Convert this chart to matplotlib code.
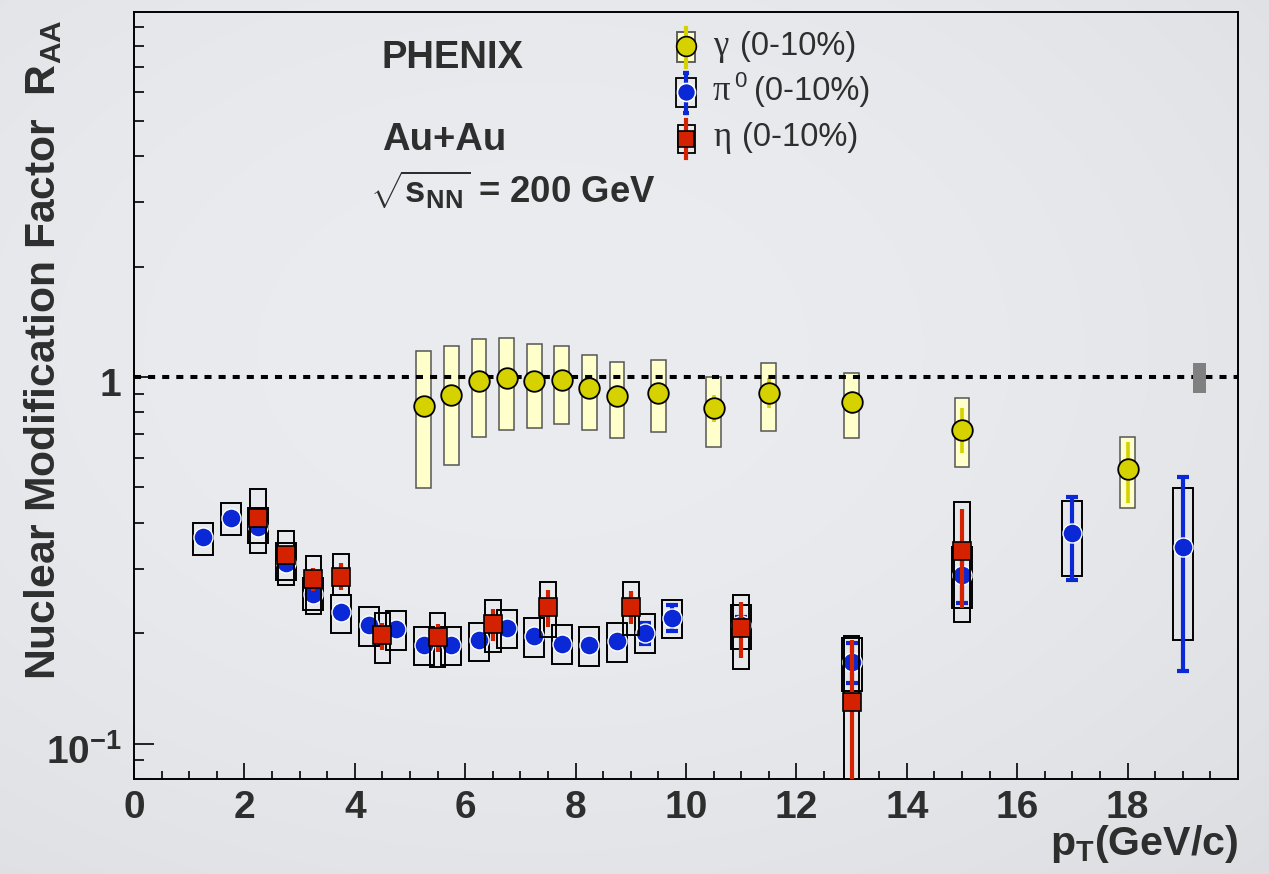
import numpy as np
import matplotlib
matplotlib.use("Agg")
import matplotlib.pyplot as plt
import matplotlib.transforms as mtransforms
from matplotlib.patches import Rectangle
from matplotlib.ticker import FixedLocator, MultipleLocator, FuncFormatter

# ---------------- data: R_AA in central (0-10%) Au+Au at sqrt(s_NN)=200 GeV ----------------
# direct photons
g_pt = [5.25, 5.75, 6.25, 6.75, 7.25, 7.75, 8.25, 8.75, 9.5, 10.5, 11.5, 13.0, 15.0, 18.0]
g_raa = [0.835, 0.893, 0.977, 0.996, 0.977, 0.979, 0.933, 0.889, 0.906, 0.823, 0.905, 0.855, 0.717, 0.560]
g_stat_lo = [0.80, 0.86, 0.945, 0.965, 0.945, 0.945, 0.895, 0.830, 0.860, 0.755, 0.822, 0.791, 0.619, 0.454]
g_stat_hi = [0.87, 0.93, 1.010, 1.030, 1.010, 1.015, 0.975, 0.951, 0.955, 0.893, 0.992, 0.916, 0.823, 0.666]
g_sys_lo = [0.497, 0.574, 0.687, 0.715, 0.726, 0.744, 0.717, 0.683, 0.707, 0.643, 0.711, 0.683, 0.567, 0.438]
g_sys_hi = [1.180, 1.215, 1.269, 1.280, 1.228, 1.212, 1.150, 1.096, 1.113, 1.002, 1.092, 1.023, 0.878, 0.685]

# neutral pions
p_pt = [1.25, 1.75, 2.25, 2.75, 3.25, 3.75, 4.25, 4.75, 5.25, 5.75, 6.25, 6.75, 7.25, 7.75,
        8.25, 8.75, 9.25, 9.75, 11.0, 13.0, 15.0, 17.0, 19.0]
p_raa = [0.365, 0.412, 0.391, 0.310, 0.256, 0.228, 0.211, 0.2055, 0.186, 0.186, 0.192, 0.2064,
         0.1966, 0.187, 0.186, 0.191, 0.2008, 0.2198, 0.2108, 0.1667, 0.2884, 0.3748, 0.3445]
p_stat_lo = [0.352, 0.398, 0.378, 0.300, 0.247, 0.220, 0.204, 0.199, 0.180, 0.180, 0.186, 0.200,
             0.190, 0.181, 0.180, 0.185, 0.187, 0.2027, 0.200, 0.146, 0.242, 0.2795, 0.158]
p_stat_hi = [0.378, 0.426, 0.404, 0.321, 0.265, 0.236, 0.218, 0.212, 0.192, 0.192, 0.198, 0.213,
             0.203, 0.193, 0.192, 0.197, 0.2135, 0.2388, 0.222, 0.188, 0.335, 0.4716, 0.535]
p_sys_lo = [0.3277, 0.370, 0.352, 0.2795, 0.232, 0.200, 0.185, 0.180, 0.1636, 0.1636, 0.168, 0.182,
            0.1727, 0.165, 0.1632, 0.1673, 0.1763, 0.1937, 0.181, 0.1392, 0.2349, 0.2866, 0.1918]
p_sys_hi = [0.399, 0.454, 0.4385, 0.352, 0.283, 0.2543, 0.2355, 0.230, 0.2085, 0.2085, 0.2138, 0.2315,
            0.2207, 0.210, 0.2076, 0.2133, 0.2253, 0.2465, 0.239, 0.1937, 0.3445, 0.460, 0.497]

# eta mesons
e_pt = [2.25, 2.75, 3.25, 3.75, 4.5, 5.5, 6.5, 7.5, 9.0, 11.0, 13.0, 15.0]
e_raa = [0.412, 0.327, 0.2807, 0.2854, 0.198, 0.195, 0.212, 0.2355, 0.2364, 0.2064, 0.1302, 0.336]
e_stat_lo = [0.395, 0.310, 0.260, 0.262, 0.180, 0.178, 0.190, 0.208, 0.212, 0.171, 0.060, 0.2349]
e_stat_hi = [0.430, 0.345, 0.302, 0.310, 0.213, 0.2117, 0.233, 0.262, 0.260, 0.244, 0.1918, 0.4364]
e_sys_lo = [0.3305, 0.270, 0.2253, 0.254, 0.1663, 0.162, 0.1775, 0.195, 0.1976, 0.1598, 0.060, 0.2151]
e_sys_hi = [0.494, 0.381, 0.325, 0.328, 0.2277, 0.2267, 0.2465, 0.2755, 0.2755, 0.254, 0.196, 0.457]

# global normalisation uncertainty drawn at unity
norm_pt = [19.3]
norm_lo = [0.905]
norm_hi = [1.092]

x_ticks = [0, 2, 4, 6, 8, 10, 12, 14, 16, 18]
y_major = [0.1, 1.0]
y_minor = [0.09, 0.2, 0.3, 0.4, 0.5, 0.6, 0.7, 0.8, 0.9, 2, 3, 4, 5, 6, 7, 8, 9]
y_labels = {0.1: r"$\mathbf{10^{-1}}$", 1.0: "1"}

# ---------------- style ----------------
YELLOW = "#D6D200"
YELLOW_BOX = "#FFFFCC"
BLUE = "#0A28D6"
RED = "#D42200"
TXT = "#2E2E2E"

plt.rcParams.update({
    "font.family": ["Liberation Sans", "DejaVu Sans"],
    "mathtext.fontset": "custom",
    "mathtext.rm": "Liberation Sans:bold",
    "mathtext.bf": "Liberation Sans:bold",
    "mathtext.it": "Liberation Sans:bold",
    "mathtext.sf": "Liberation Sans:bold",
})

W, H = 1269, 874
fig = plt.figure(figsize=(W / 100, H / 100), dpi=100)

# soft light-grey backdrop, slightly darker towards the edges
yy, xx = np.mgrid[0:H, 0:W]
r2 = ((xx - 0.42 * W) / W) ** 2 + ((yy - 0.40 * H) / H) ** 2
shade = np.clip(1.0 - 0.09 * r2, 0, 1)
base = np.array([235, 236, 240]) / 255.0
bg = (base[None, None, :] * shade[:, :, None])
fig.figimage(np.clip(bg, 0, 1), 0, 0, zorder=-10)

# pixel-space transform (origin top-left) for the annotation block
pix = mtransforms.Affine2D().scale(1.0 / W, -1.0 / H).translate(0, 1) + fig.transFigure

ax = fig.add_axes([134 / W, 1 - 779 / H, (1238 - 134) / W, (779 - 12) / H])
ax.patch.set_alpha(0)
ax.set_yscale("log")
ax.set_xlim(0, 20)
ax.set_ylim(0.0801, 9.89)

# ---- photons ----
g_pt_a = np.array(g_pt)
g_raa_a = np.array(g_raa)
ax.bar(g_pt_a, np.subtract(g_sys_hi, g_sys_lo), bottom=g_sys_lo, width=0.27,
       color=YELLOW_BOX, edgecolor="#555555", linewidth=1.1, zorder=2)
ax.errorbar(g_pt_a, g_raa_a, yerr=[g_raa_a - np.array(g_stat_lo), np.array(g_stat_hi) - g_raa_a],
            fmt="none", ecolor=YELLOW, elinewidth=2.6, capsize=0, zorder=2.5)

# unity reference and normalisation box
ax.axhline(1.0, color="black", lw=2.9, linestyle=(0, (1.75, 1.75)), dash_capstyle="butt", zorder=3)
ax.bar(norm_pt, np.subtract(norm_hi, norm_lo), bottom=norm_lo, width=0.24,
       color="#808080", edgecolor="none", zorder=3.5)

ax.plot(g_pt_a, g_raa_a, "o", ms=14.8, mfc=YELLOW, mec="black", mew=1.3, zorder=4)

# ---- pi0 ----
p_pt_a = np.array(p_pt)
p_raa_a = np.array(p_raa)
ax.bar(p_pt_a, np.subtract(p_sys_hi, p_sys_lo), bottom=p_sys_lo, width=0.36,
       fill=False, edgecolor="black", linewidth=1.4, zorder=4.1)
ax.errorbar(p_pt_a, p_raa_a, yerr=[p_raa_a - np.array(p_stat_lo), np.array(p_stat_hi) - p_raa_a],
            fmt="none", ecolor=BLUE, elinewidth=3.0, capsize=4, capthick=3.0, zorder=4.2)
ax.plot(p_pt_a, p_raa_a, "o", ms=13.7, mfc=BLUE, mec="white", mew=1.0, zorder=4.3)

# ---- eta ----
e_pt_a = np.array(e_pt)
e_raa_a = np.array(e_raa)
ax.bar(e_pt_a, np.subtract(e_sys_hi, e_sys_lo), bottom=e_sys_lo, width=0.28,
       fill=False, edgecolor="black", linewidth=1.4, zorder=4.4)
ax.errorbar(e_pt_a, e_raa_a, yerr=[e_raa_a - np.array(e_stat_lo), np.array(e_stat_hi) - e_raa_a],
            fmt="none", ecolor=RED, elinewidth=3.0, capsize=0, zorder=4.5)
ax.plot(e_pt_a, e_raa_a, "s", ms=12.6, mfc=RED, mec="black", mew=1.2, zorder=4.6)

# ---- axes cosmetics ----
for s in ax.spines.values():
    s.set_linewidth(1.4)
    s.set_color("black")

ax.xaxis.set_major_locator(FixedLocator(x_ticks))
ax.xaxis.set_minor_locator(MultipleLocator(0.5))
ax.yaxis.set_major_locator(FixedLocator(y_major))
ax.yaxis.set_minor_locator(FixedLocator(y_minor))
ax.yaxis.set_major_formatter(FuncFormatter(lambda v, pos: y_labels.get(round(v, 3), "")))
ax.yaxis.set_minor_formatter(FuncFormatter(lambda v, pos: ""))
ax.xaxis.set_major_formatter(FuncFormatter(lambda v, pos: "%d" % v))

ax.tick_params(axis="x", which="major", direction="in", length=11.5, width=1.2, pad=8,
               labelsize=28, labelcolor=TXT, top=False)
ax.tick_params(axis="x", which="minor", direction="in", length=5.8, width=1.2, top=False)
ax.tick_params(axis="y", which="major", direction="in", length=14.4, width=1.2, pad=9,
               labelsize=28, labelcolor=TXT, right=False)
ax.tick_params(axis="y", which="minor", direction="in", length=7.5, width=1.2, right=False)
for lab in ax.get_xticklabels() + ax.get_yticklabels():
    lab.set_fontweight("bold")
# y labels sit a little below their ticks
shift = mtransforms.ScaledTranslation(0, -5 / 100, fig.dpi_scale_trans)
for lab in ax.yaxis.get_majorticklabels():
    lab.set_transform(lab.get_transform() + shift)

# axis titles
fig.text(55 / W, 1 - 19 / H, r"Nuclear Modification Factor  R$_{\mathbf{AA}}$",
         rotation=90, rotation_mode="anchor", ha="right", va="baseline",
         fontsize=30.7, fontweight="bold", color=TXT)
fig.text(1238 / W, 1 - 855 / H, r"p$_{\mathbf{T}}$(GeV/c)", ha="right", va="baseline",
         fontsize=29.6, fontweight="bold", color=TXT)

# experiment / system labels
fig.text(382 / W, 1 - 68 / H, "PHENIX", ha="left", va="baseline",
         fontsize=27.5, fontweight="bold", color=TXT)
fig.text(382 / W, 1 - 150 / H, "Au+Au", ha="left", va="baseline",
         fontsize=27.5, fontweight="bold", color=TXT)
fig.text(370 / W, 1 - 203 / H, r"$\sqrt{\mathbf{s}_{\mathbf{NN}}}$ = 200 GeV", ha="left", va="baseline",
         fontsize=26.3, fontweight="bold", color=TXT)

# ---- legend ----
leg_x = 686
rows = [
    dict(y=46, base=55, greek="\u03b3", sup=None, txt_x=740, mfc=YELLOW, mec="black", mk="o", ms=14.2,
         ec=YELLOW, box=(677, 32, 18, 30), bfc=YELLOW_BOX, bec="#555555", stat=(28, 67), cap=0),
    dict(y=92, base=100, greek="\u03c0", sup="0", txt_x=754, mfc=BLUE, mec="white", mk="o", ms=13,
         ec=BLUE, box=(676, 78, 20, 29), bfc="none", bec="black", stat=(73, 113), cap=4),
    dict(y=139, base=146, greek="\u03b7", sup=None, txt_x=742, mfc=RED, mec="black", mk="s", ms=12,
         ec=RED, box=(677.5, 125, 17, 28), bfc="none", bec="black", stat=(120, 158), cap=0),
]
for r in rows:
    bx, by, bw, bh = r["box"]
    fig.add_artist(Rectangle((bx, by + bh), bw, -bh, transform=pix, facecolor=r["bfc"],
                             edgecolor=r["bec"], linewidth=1.3, zorder=5))
    ln = plt.Line2D([leg_x, leg_x], [r["stat"][0], r["stat"][1]], transform=pix, color=r["ec"],
                    lw=3.0, zorder=5.5)
    fig.add_artist(ln)
    if r["cap"]:
        for yc in r["stat"]:
            fig.add_artist(plt.Line2D([leg_x], [yc], transform=pix, marker="_", ms=r["cap"],
                                      mew=3.0, color=r["ec"], zorder=5.5))
    fig.add_artist(plt.Line2D([leg_x], [r["y"]], transform=pix, marker=r["mk"], ms=r["ms"],
                              mfc=r["mfc"], mec=r["mec"], mew=1.2, linestyle="none", zorder=6))
    fig.text(713 / W, 1 - r["base"] / H, r["greek"], ha="left", va="baseline",
             fontsize=25, family=["Liberation Serif", "DejaVu Serif"], color=TXT)
    if r["sup"]:
        fig.text(734 / W, 1 - 87 / H, r["sup"], ha="left", va="baseline",
                 fontsize=16, color=TXT)
    fig.text(r["txt_x"] / W, 1 - r["base"] / H, "(0-10%)", ha="left", va="baseline",
             fontsize=23.5, color=TXT)

fig.savefig("out.png", dpi=100)
